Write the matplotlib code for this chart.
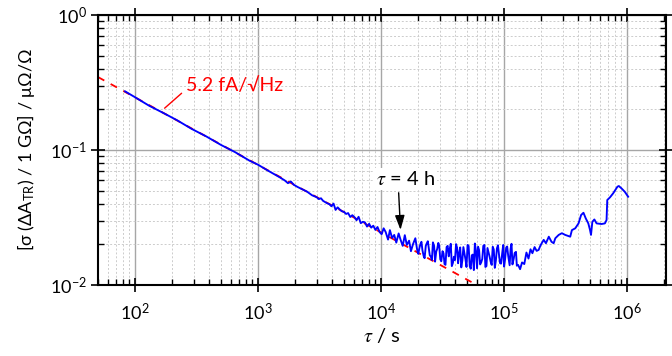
import matplotlib
matplotlib.use("Agg")
import matplotlib.pyplot as plt

plt.rcParams['font.family'] = ['Lato', 'Noto Sans', 'DejaVu Sans']
plt.rcParams['mathtext.fontset'] = 'stix'
plt.rcParams['mathtext.default'] = 'regular'
plt.rcParams['axes.unicode_minus'] = False
plt.rcParams['font.size'] = 13

# measured Allan deviation, tau in s, sigma in uOhm/Ohm
tau_smooth = [83, 100, 130, 170, 220, 290, 380, 500, 650, 850, 1000, 1200,
              1500, 1650, 1750, 1850, 1950, 2100, 2500, 2750]
sigma_smooth = [0.272, 0.246, 0.213, 0.188, 0.166, 0.143, 0.126, 0.109, 0.0965,
                0.0835, 0.0778, 0.0705, 0.0628, 0.0595, 0.0568, 0.0584, 0.0553,
                0.0532, 0.0492, 0.0462]

tau_noisy = [3000, 3120, 3250, 3380, 3510, 3650, 3800, 3950, 4110, 4270,
             4440, 4620, 4800, 5000, 5200, 5400, 5620, 5840, 6080, 6320,
             6570, 6840, 7110, 7400, 7690, 8000, 8320, 8650, 9000, 9360,
             9730,
             10100, 10500, 10900, 11400, 11800, 12300, 12800, 13300, 13900, 14400,
             15000, 15600, 16200, 16900, 17500, 18200, 19000, 19700, 20500, 21300,
             22200, 23100, 24000, 24900, 25900, 27000, 28100, 29200, 30300, 31600,
             32800, 34100, 35500, 36900, 38400, 39900, 41500, 43200, 44900, 46700,
             48600, 50500, 52600, 54700, 56800, 59100, 61500, 63900, 66500, 69200,
             71900, 74800, 77800, 80900, 84100, 87500, 91000, 94600, 98400, 102000,
             106000, 111000, 115000, 120000, 125000, 130000, 135000, 140000, 146000, 152000,
             158000, 164000, 170000, 177000, 184000]
sigma_noisy = [0.0447, 0.0433, 0.0439, 0.0420, 0.0412, 0.0403, 0.0397, 0.0383, 0.0401, 0.0360,
               0.0376, 0.0362, 0.0352, 0.0348, 0.0336, 0.0341, 0.0319, 0.0329, 0.0318, 0.0302,
               0.0320, 0.0287, 0.0294, 0.0291, 0.0271, 0.0284, 0.0266, 0.0275, 0.0256, 0.0269,
               0.0247,
               0.0238, 0.0263, 0.0247, 0.0217, 0.0255, 0.0223, 0.0235, 0.0206, 0.0241, 0.0217,
               0.0195, 0.0234, 0.0198, 0.0213, 0.0178, 0.0201, 0.0222, 0.0180, 0.0188, 0.0209,
               0.0164, 0.0195, 0.0211, 0.0166, 0.0153, 0.0195, 0.0177, 0.0205, 0.0155, 0.0178,
               0.0143, 0.0191, 0.0163, 0.0202, 0.0146, 0.0153, 0.0189, 0.0174, 0.0135, 0.0191,
               0.0154, 0.0198, 0.0138, 0.0166, 0.0129, 0.0180, 0.0192, 0.0142, 0.0156, 0.0198,
               0.0138, 0.0175, 0.0149, 0.0192, 0.0134, 0.0187, 0.0167, 0.0144, 0.0198, 0.0156,
               0.0193, 0.0140, 0.0202, 0.0158, 0.0176, 0.0141, 0.0131, 0.0147, 0.0143, 0.0174,
               0.0157, 0.0184, 0.0172, 0.0191, 0.0179]

# extra samples read in between, where the trace is a dense noisy band
tau_band = [20100, 20900, 21700, 22600, 23500, 24400, 25400, 26400, 27500, 28600,
            29700, 30900, 32200, 33400, 34800, 36200, 37600, 39100, 40700, 42300,
            44000, 45800, 47600, 49500, 51500, 53600, 55700, 57900, 60300, 62700,
            65200, 67800, 70500, 73300, 76300, 79300, 82500, 85800, 89200, 92800,
            96500, 100000, 104000, 108000, 113000, 117000, 122000, 127000]
sigma_band = [0.0170, 0.0201, 0.0181, 0.0158, 0.0203, 0.0190, 0.0162, 0.0207, 0.0149, 0.0185,
              0.0196, 0.0150, 0.0172, 0.0141, 0.0195, 0.0186, 0.0138, 0.0162, 0.0201, 0.0145,
              0.0190, 0.0152, 0.0173, 0.0136, 0.0195, 0.0132, 0.0168, 0.0203, 0.0133, 0.0181,
              0.0147, 0.0195, 0.0136, 0.0188, 0.0162, 0.0141, 0.0183, 0.0152, 0.0197, 0.0145,
              0.0171, 0.0137, 0.0189, 0.0165, 0.0185, 0.0142, 0.0173, 0.0139]

tau_tail = [191000, 198000, 210000, 219000, 231000, 243000, 253000, 261000, 278000,
            295000, 314000, 345000, 356000, 379000, 403000, 423000, 442000, 461000,
            484000, 500000, 509000, 522000, 542000, 565000, 620000, 660000, 681000,
            690000, 726000, 771000, 835000, 857000, 900000, 957000, 1020000]
sigma_tail = [0.0182, 0.0197, 0.0216, 0.0204, 0.0228, 0.0209, 0.0204, 0.0222, 0.0235,
              0.0242, 0.0235, 0.0228, 0.0255, 0.0263, 0.0286, 0.0330, 0.0343, 0.0312,
              0.0286, 0.0255, 0.0235, 0.0294, 0.0306, 0.0286, 0.0283, 0.0286, 0.0303,
              0.0426, 0.0446, 0.0478, 0.0535, 0.0541, 0.0520, 0.0491, 0.0451]

# white-noise fit, 5.2 fA/sqrt(Hz)
fit_tau = [50, 1e5]
fit_sigma = [0.347, 0.00775]

pts = sorted(zip(tau_smooth + tau_noisy + tau_band + tau_tail,
                 sigma_smooth + sigma_noisy + sigma_band + sigma_tail))
tau = [p[0] for p in pts]
sigma = [p[1] for p in pts]

fig = plt.figure(figsize=(6.72, 3.56), dpi=100)
ax = fig.add_axes([0.1458, 0.1994, 0.8452, 0.7585])

ax.loglog(fit_tau, fit_sigma, color='red', lw=1.3, dashes=(4, 4))
ax.loglog(tau, sigma, color='blue', lw=1.35)

ax.set_xlim(50, 2.07e6)
ax.set_ylim(1e-2, 1)

ax.set_axisbelow(True)
ax.grid(which='major', color='#a6a6a6', lw=1.0, ls='-')
ax.grid(which='minor', color='#cccccc', lw=0.7, ls=(0, (2, 2)))

for s in ax.spines.values():
    s.set_linewidth(1.5)
ax.tick_params(which='major', direction='inout', length=10, width=1.2,
               top=True, right=True)
ax.tick_params(which='minor', direction='in', length=4, width=1.0,
               top=True, right=True)
ax.tick_params(axis='x', which='major', pad=7)
ax.tick_params(axis='y', which='major', pad=3)

ax.set_xlabel(r'$\mathit{\tau}$ / s', fontsize=14.5)
ax.set_ylabel(r'[σ (ΔA$_{\mathregular{TR}}$) / 1 GΩ] / μΩ/Ω')
ax.xaxis.set_label_coords(0.5, -0.15)
ax.yaxis.set_label_coords(-0.107, 0.5)

ax.annotate('5.2 fA/√Hz', xy=(174, 0.204), xytext=(262, 0.30),
            color='red', ha='left', va='center', fontsize=14,
            arrowprops=dict(arrowstyle='-', color='red', lw=1.0,
                            shrinkA=2, shrinkB=0, relpos=(0, 0.3)))

ax.annotate(r'$\mathit{\tau}$ = 4 h', xy=(14400, 0.0256), xytext=(15800, 0.061),
            ha='center', va='center', fontsize=14.5,
            bbox=dict(boxstyle='square,pad=0.1', fc='white', ec='none'),
            arrowprops=dict(arrowstyle='-|>,head_length=0.6,head_width=0.2',
                            color='black', lw=1.0, shrinkA=2, shrinkB=0,
                            relpos=(0.38, 0)))

fig.savefig('out.png', dpi=100)
